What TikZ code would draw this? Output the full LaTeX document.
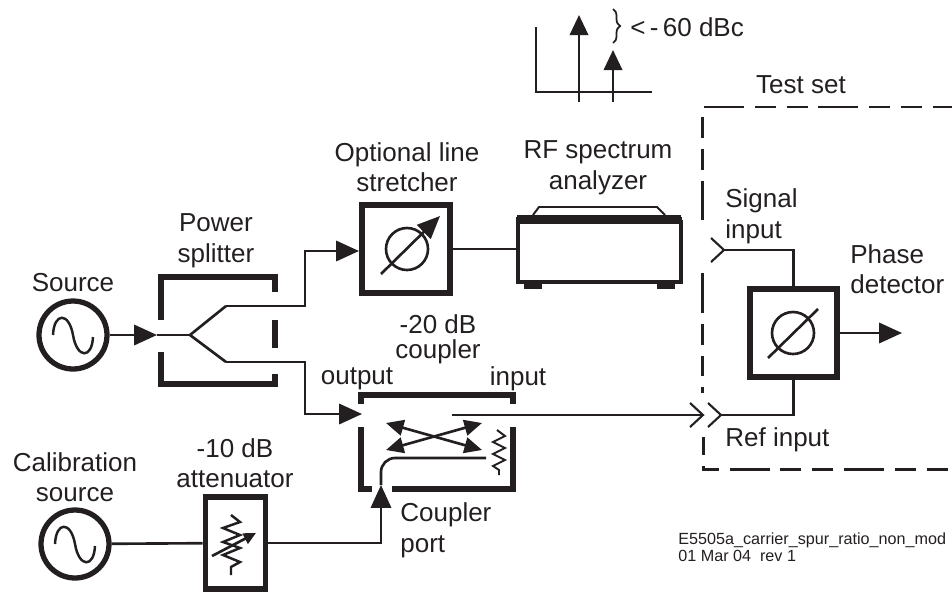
\documentclass[tikz,border=0pt]{standalone}
\usepackage{fontspec}
\setmainfont{Liberation Sans}
\usepackage{xcolor}
\usetikzlibrary{arrows.meta, calc, decorations.pathreplacing}
\definecolor{inkblack}{HTML}{231F20}
\newcommand{\labelfont}{\fontsize{14.8}{17.4}\selectfont}
\tikzset{
  sinewave/.pic={\draw[line width=1.4pt] (-20,0) .. controls (-19,-23) and (-4,-23) .. (0,0) .. controls (4,24) and (19,24) .. (20,2);},
  chevron/.pic={\draw[line width=1.2pt] (-13,-12) -- (0,0) -- (-13,12);}
}
\begin{document}
\begin{tikzpicture}[
    x=0.02cm, y=-0.02cm, color=inkblack,
    lbl/.style={font=\labelfont, inner sep=0pt, align=center},
    lbll/.style={font=\labelfont, inner sep=0pt, align=left, anchor=west},
    note/.style={font=\fontsize{9.2}{9.4}\selectfont, inner sep=0pt, align=left, anchor=west},
    srccirc/.style={draw, circle, line width=3pt, minimum size=1.36cm, inner sep=0pt},
    box/.style={draw, line width=3.4pt, inner sep=0pt},
    wall/.style={line width=3pt},
    wire/.style={line width=1.5pt},
    arr/.style={wire, -{Triangle[length=13pt, width=11.5pt]}},
    xarr/.style={line width=1.5pt, {Triangle[length=10pt, width=9pt]}-{Triangle[length=10pt, width=9pt]}},
    testdash/.style={line width=1.7pt, dash pattern=on 22.7pt off 6.2pt on 11.9pt off 6.2pt on 11.9pt off 6.2pt}
  ]
    \useasboundingbox (0,0) rectangle (952,592);

    \node[srccirc] (source) at (73,335) {};
    \pic at (73,335) {sinewave};
    \node[srccirc] (calsource) at (75,544) {};
    \pic at (75,544) {sinewave};
    \node[lbl] (sourcelbl) at (73,283) {Source};
    \node[lbl] (callbl) at (75,477) {Calibration\\source};

    \draw[wall] (161,320) -- (161,277) -- (275,277) -- (275,292);
    \draw[wall] (275,320) -- (275,348);
    \draw[wall] (161,352) -- (161,384) -- (275,384) -- (275,374);
    \node[lbl] (splitlbl) at (216,241) {Power\\splitter};
    \coordinate (splittip) at (157,335);
    \coordinate (splitfork) at (190,335);
    \coordinate (splitup) at (226,306);
    \coordinate (splitdown) at (226,362);
    \coordinate (stretchin) at (359,251);
    \coordinate (couplerout) at (362,414);
    \draw[arr] (source) -- (splittip);
    \draw[wire] (splittip) -- (splitfork);
    \draw[wire] (splitfork) -- (splitup);
    \draw[wire] (splitfork) -- (splitdown);
    \draw[arr] (splitup) -- (305,306) -- (305,251) -- (stretchin);
    \draw[arr] (splitdown) -- (305,362) -- (305,414) -- (couplerout);

    \node[box, minimum size=1.76cm] (stretcher) at (406,249) {};
    \draw[line width=1.5pt] (407,249) circle (21);
    \draw[arr, -{Triangle[length=13pt, width=11pt]}] (381,274) -- (440,216);
    \node[lbl] (stretchlbl) at (407,167) {Optional line\\stretcher};

    \node[draw, line width=2.2pt, minimum width=3.26cm, minimum height=1.2cm, inner sep=0pt] (analyzer) at (599.5,252) {};
    \draw[line width=3pt] (516,220) -- (682,220);
    \draw[line width=0.9pt] (517,216) -- (681,216);
    \draw[line width=1.1pt] (533,215) -- (539,207) -- (657,207) -- (665,215);
    \fill (524,283) rectangle (542,289);
    \fill (657,283) rectangle (675,289);
    \draw[wire] (stretcher) -- (stretcher -| analyzer.west);
    \node[lbl] (analyzerlbl) at (598,168) {RF spectrum\\analyzer};

    \draw[wire] (536,27) -- (536,92) -- (652,92);
    \draw[arr, -{Triangle[length=11.5pt, width=10.5pt]}] (579,102) -- (579,15);
    \draw[arr, -{Triangle[length=11.5pt, width=10.5pt]}] (613,102) -- (613,50);
    \draw[line width=1pt, decorate, decoration={brace, amplitude=4pt}] (613,9) -- (613,43);
    \node[lbl, anchor=west] (spurlbl) at (630,27) {<\,-\,60 dBc};

    \draw[wall] (361,404) -- (361,395) -- (513,395) -- (513,404);
    \draw[wall] (361,427) -- (361,489) -- (372,489);
    \draw[wall] (392,489) -- (513,489) -- (513,427);
    \node[lbl] (couplerlbl) at (438,339) {-20 dB\\[-3pt]coupler};
    \node[lbl] (outputlbl) at (357,379) {output};
    \node[lbl] (inputlbl) at (518,379) {input};
    \coordinate (xa) at (386,450);
    \coordinate (xb) at (482,423);
    \coordinate (xc) at (386,423);
    \coordinate (xd) at (482,450);
    \draw[xarr] (xa) -- (xb);
    \draw[xarr] (xc) -- (xd);
    \draw[line width=1.1pt] (497,430) -- (505,436) -- (493,442) -- (505,448) -- (493,454) -- (505,460) -- (493,466) -- (499,470) -- (499,475);
    \coordinate (loadend) at (486,458);
    \coordinate (portin) at (381,485);
    \draw[wire, rounded corners=8pt] (loadend) -- (381,458) -- (portin);
    \node[lbll] (portlbl) at (400,530) {Coupler\\port};

    \node[box, minimum width=1.2cm, minimum height=1.84cm] (atten) at (235.5,543) {};
    \draw[line width=1.4pt] (231,515) -- (240,522) -- (223,528) -- (240,535) -- (223,542) -- (240,548) -- (223,555) -- (240,562) -- (231,567) -- (231,575);
    \draw[arr, -{Triangle[length=7pt, width=6.5pt]}] (212,556) -- (256,533);
    \node[lbl] (attenlbl) at (235,463) {-10 dB\\attenuator};
    \draw[wire] (calsource) -- (atten);
    \draw[arr] (atten) -- (atten -| portin) -- (portin);

    \node[box, minimum size=1.75cm] (phase) at (793.5,333) {};
    \draw[line width=1.5pt] (793,333) circle (21);
    \draw[line width=1.5pt] (768,358) -- (818,309);
    \coordinate (phaseout) at (902,333);
    \draw[arr] (phase) -- (phaseout);
    \coordinate (siginput) at (724,250);
    \coordinate (refinput) at (721,415);
    \coordinate (couplerin) at (452,415);
    \coordinate (setedge) at (703,415);
    \draw[wire] (phase.north) |- (siginput);
    \draw[wire] (phase.south) |- (refinput);
    \draw[wire] (couplerin) -- (setedge);
    \pic at (siginput) {chevron};
    \pic at (refinput) {chevron};
    \pic at (setedge) {chevron};
    \node[lbll] (siglbl) at (725,216) {Signal\\input};
    \node[lbll] (reflbl) at (725,440) {Ref input};
    \node[lbll] (phaselbl) at (850,269) {Phase\\detector};

    \draw[testdash] (704,107) -- (952,107);
    \draw[testdash, dash phase=28.9pt] (702,117) -- (702,220);
    \draw[testdash] (702,273) -- (702,393);
    \draw[line width=1.7pt] (703,437) -- (703,455);
    \draw[testdash, dash phase=48.2pt] (703,466) -- (703,469) -- (952,469);
    \node[lbl] (testlbl) at (801,85) {Test set};

    \node[note] (notelbl) at (678,547) {E5505a\_carrier\_spur\_ratio\_non\_mod\\01 Mar 04\ \ rev 1};
  \end{tikzpicture}
\end{document}
